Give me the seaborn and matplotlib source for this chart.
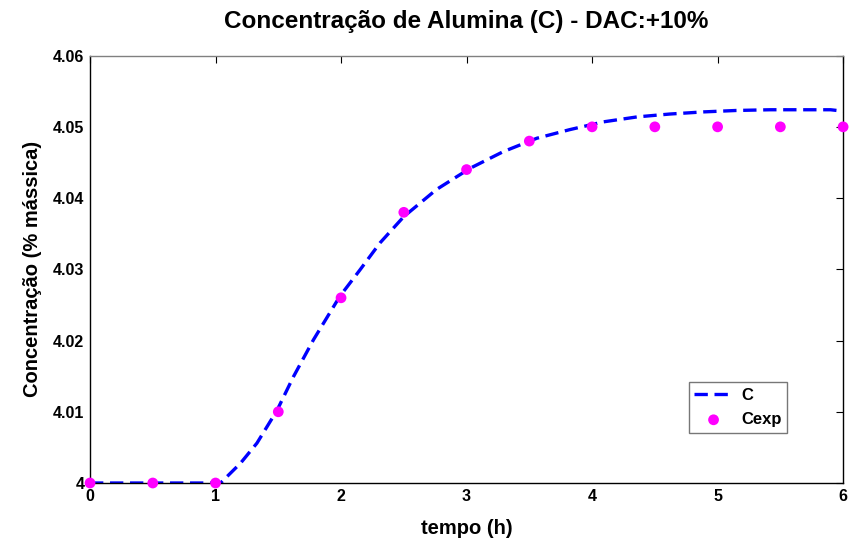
import matplotlib
matplotlib.use('Agg')
import matplotlib.pyplot as plt
import seaborn as sns
import pandas as pd

#   Dados experimentais (Cexp)
t_exp = [0, 0.5, 1, 1.5, 2, 2.5, 3, 3.5, 4, 4.5, 5, 5.5, 6]
c_exp = [4.000, 4.000, 4.000, 4.010, 4.026, 4.038, 4.044, 4.048, 4.050, 4.050, 4.050, 4.050, 4.050]

#   Curva do modelo (C)
t_mod = [0, 0.5, 1.0, 1.04, 1.2, 1.33, 1.49, 1.62, 1.78, 1.99, 2.15, 2.31, 2.5,
         2.76, 3.03, 3.29, 3.56, 3.82, 4.09, 4.36, 4.62, 4.89, 5.15, 5.42, 5.68, 5.9, 6.0]
c_mod = [4.000, 4.000, 4.000, 4.000, 4.0028, 4.0056, 4.0102, 4.0149, 4.0201, 4.0262, 4.0299,
         4.0337, 4.0374, 4.0412, 4.0442, 4.0465, 4.0484, 4.0496, 4.0507, 4.0514, 4.0518,
         4.0521, 4.0523, 4.0524, 4.0524, 4.0524, 4.0522]

df_mod = pd.DataFrame({'t': t_mod, 'C': c_mod})
df_exp = pd.DataFrame({'t': t_exp, 'C': c_exp})

sns.set_style('white')
plt.rcParams['font.family'] = ['Liberation Sans', 'DejaVu Sans']
plt.rcParams['font.weight'] = 'bold'
plt.rcParams['text.color'] = 'black'
plt.rcParams['axes.labelcolor'] = 'black'
plt.rcParams['xtick.color'] = 'black'
plt.rcParams['ytick.color'] = 'black'

fig = plt.figure(figsize=(8.5, 5.41), dpi=100)
ax = fig.add_axes([0.1059, 0.1072, 0.886, 0.790])

sns.lineplot(data=df_mod, x='t', y='C', ax=ax, color='#0000ff', linewidth=2.4,
             dashes=False, label='C')
ax.lines[0].set_linestyle((0, (4, 2)))
sns.scatterplot(data=df_exp, x='t', y='C', ax=ax, color='#ff00ff', s=60,
                edgecolor='none', label='Cexp', zorder=5, clip_on=False)

ax.set_xlim(0, 6)
ax.set_ylim(4.0, 4.06)
ax.set_xticks([0, 1, 2, 3, 4, 5, 6])
ax.set_yticks([4.0, 4.01, 4.02, 4.03, 4.04, 4.05, 4.06])
ax.set_yticklabels(['4', '4.01', '4.02', '4.03', '4.04', '4.05', '4.06'])
ax.tick_params(direction='in', length=5, top=True, right=True, labelsize=11.5, pad=4,
               width=0.8)
for lab in ax.get_xticklabels() + ax.get_yticklabels():
    lab.set_fontweight('bold')
for s in ['left', 'bottom', 'right']:
    ax.spines[s].set_color('black')
ax.spines['top'].set_color('#808080')
for s in ax.spines.values():
    s.set_linewidth(1.0)

ax.set_title('Concentração de Alumina (C) - DAC:+10%', fontsize=17.5, fontweight='bold', pad=20)
ax.set_xlabel('tempo (h)', fontsize=14.5, fontweight='bold', labelpad=11)
ax.set_ylabel('Concentração (% mássica)', fontsize=14.5, fontweight='bold', labelpad=8)

leg = ax.legend(loc='lower right', bbox_to_anchor=(0.926, 0.117), frameon=True,
                fancybox=False, edgecolor='#555555', fontsize=12, handlelength=2.3,
                borderpad=0.35, labelspacing=0.55, handletextpad=0.5, borderaxespad=0)
leg.get_frame().set_linewidth(1.0)
for txt in leg.get_texts():
    txt.set_fontweight('bold')

fig.savefig('out.png', dpi=100, facecolor='white')
